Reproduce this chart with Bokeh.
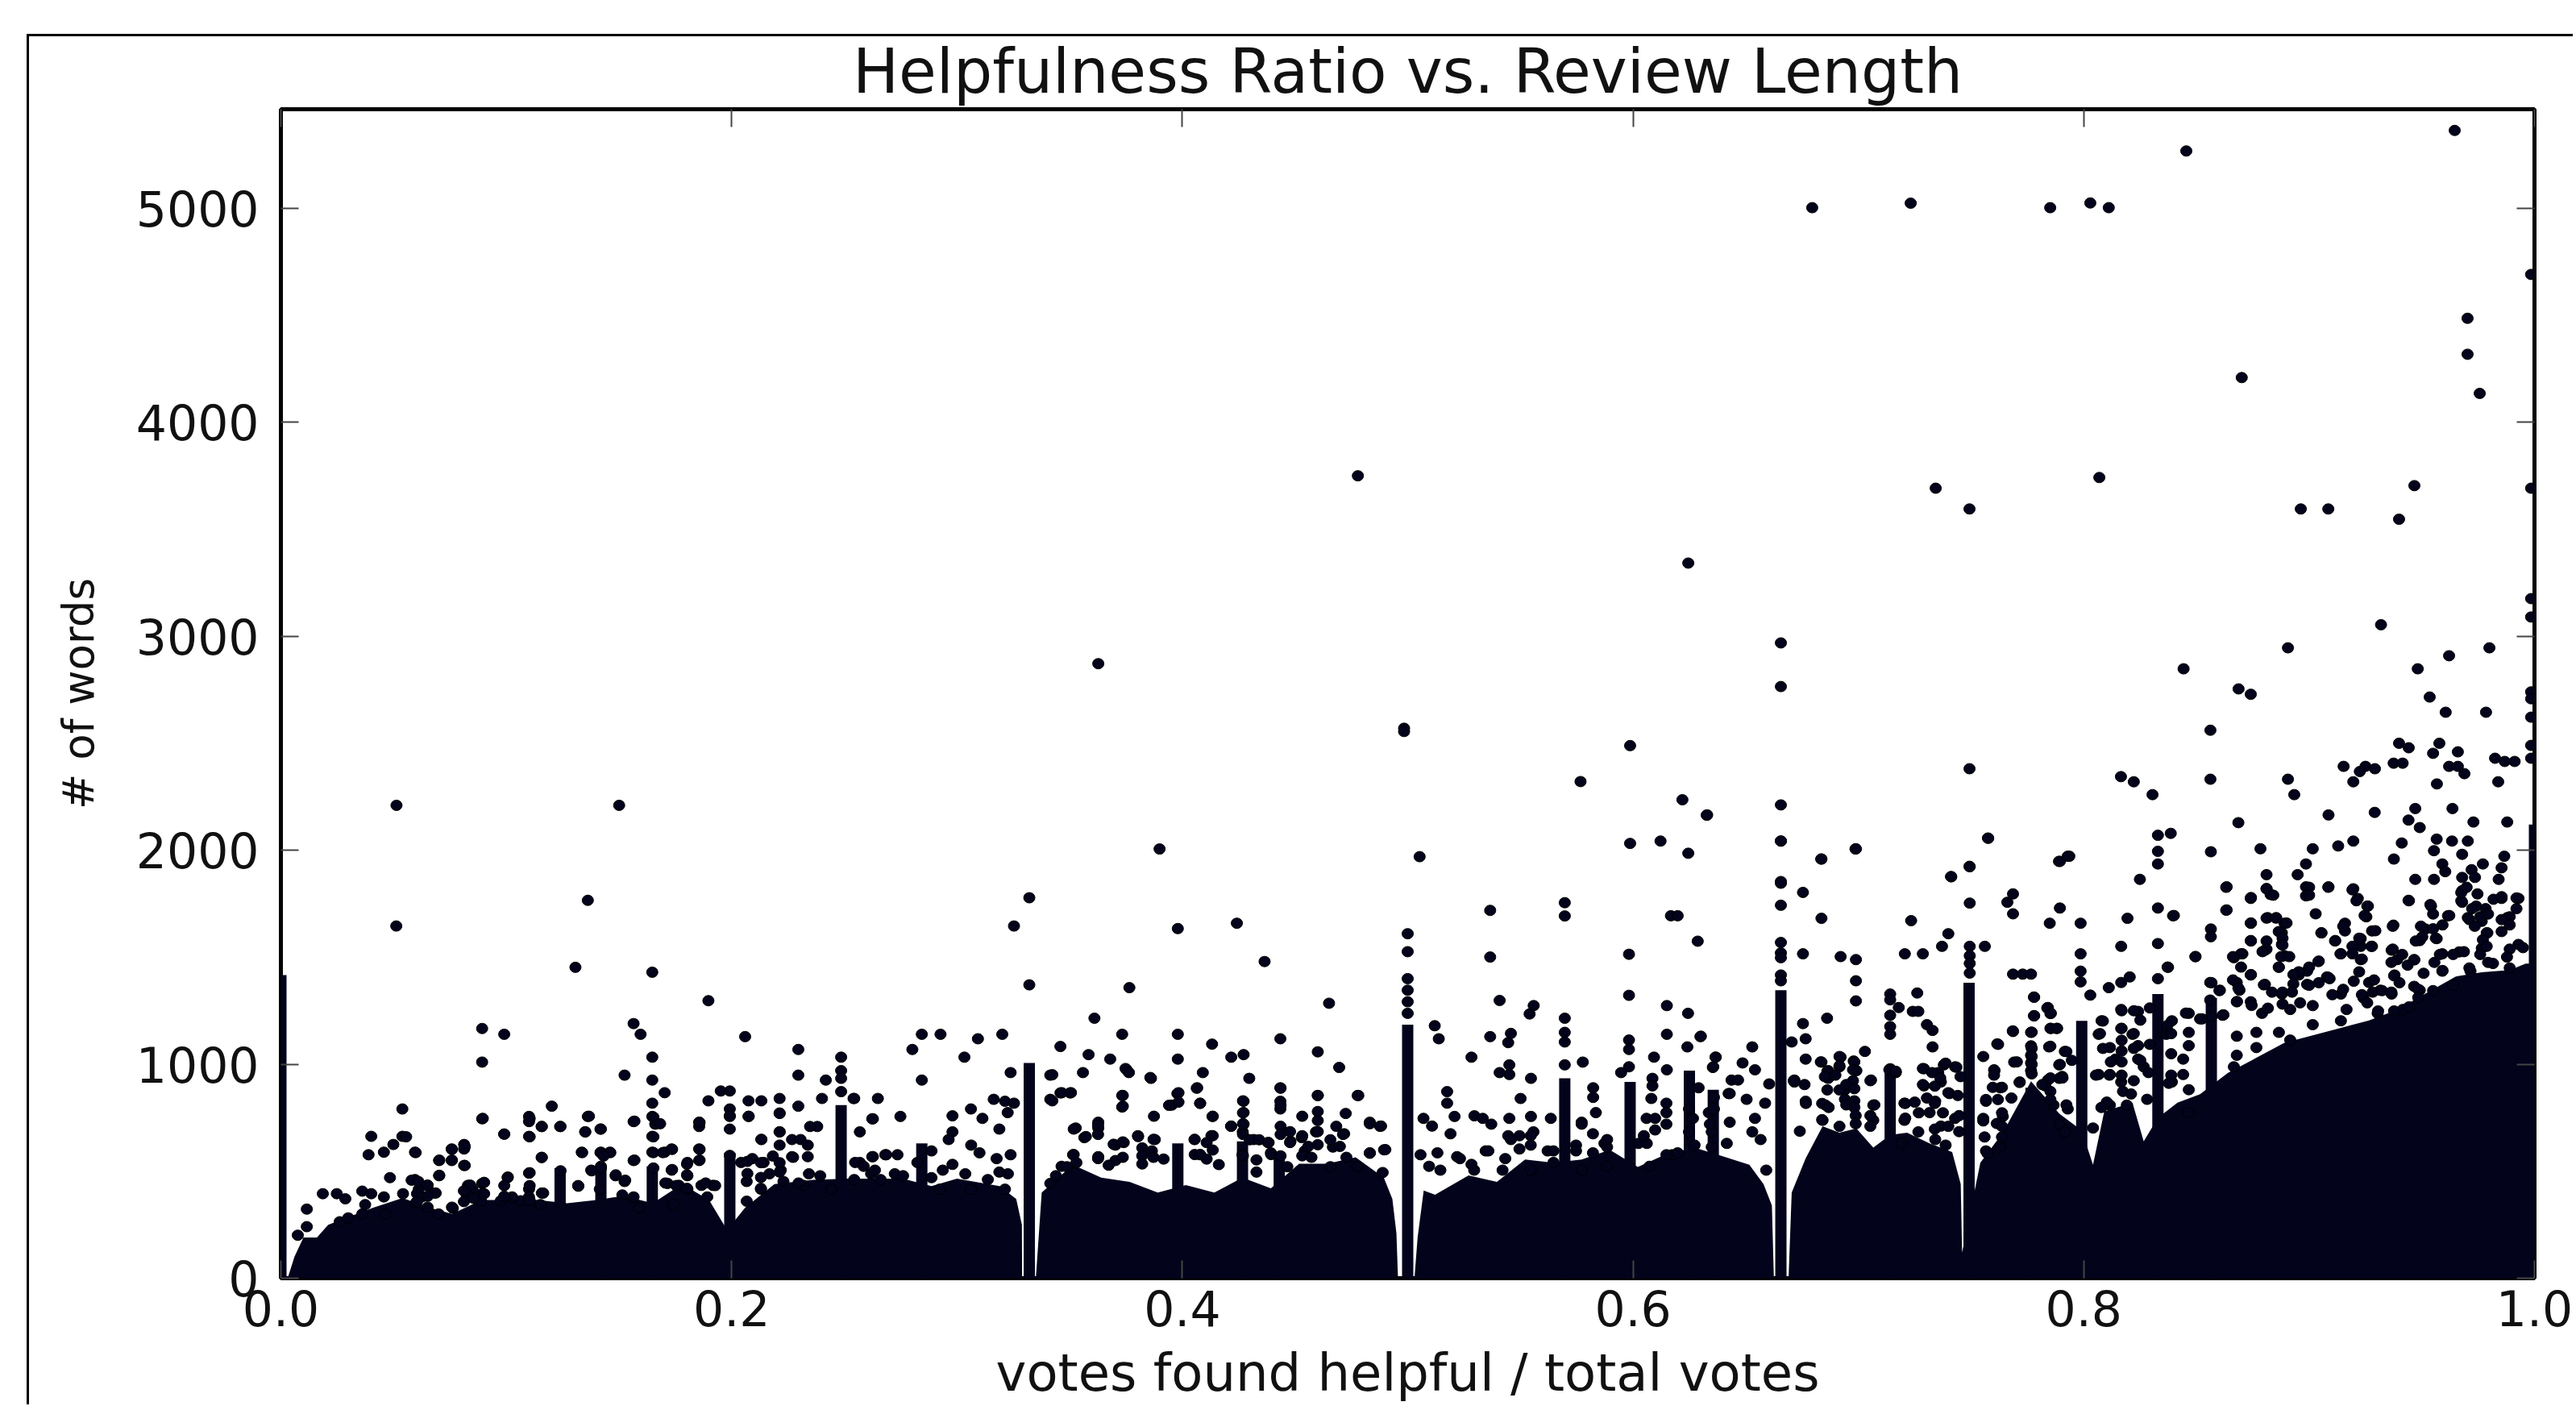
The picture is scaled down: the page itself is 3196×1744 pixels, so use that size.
from bokeh.plotting import figure
from bokeh.models import LinearAxis, Range1d, FixedTicker, Title
from bokeh.embed import file_html
from bokeh.resources import INLINE

TITLE = "Helpfulness Ratio vs. Review Length"
X_LABEL = "votes found helpful / total votes"
Y_LABEL = "# of words"
x_ticks = [0.0, 0.2, 0.4, 0.6, 0.8, 1.0]
x_tick_labels = ["0.0", "0.2", "0.4", "0.6", "0.8", "1.0"]
y_ticks = [0, 1000, 2000, 3000, 4000, 5000]

# Upper envelope of the solid mass of overlapping points (x, words)
mass_left = [(0.003,0),(0.006,100),(0.01,190),(0.016,190),(0.021,250),(0.031,290),(0.041,330),(0.054,375),(0.066,330),(0.076,300),(0.089,365),(0.102,365),(0.114,365),(0.127,350),(0.14,365),(0.152,385),(0.165,350),(0.178,440),(0.19,365),(0.198,225),(0.206,330),(0.219,440),(0.236,460),(0.251,465),(0.2636,465),(0.276,465),(0.2887,430),(0.3,465),(0.3189,430),(0.3263,370),(0.3288,250),(0.3289,0)]
mass_b = [(0.3350,0),(0.3376,400),(0.3514,530),(0.364,470),(0.3766,450),(0.3891,400),(0.4016,435),(0.4142,400),(0.4267,470),(0.4393,420),(0.4518,535),(0.4643,535),(0.4769,565),(0.4894,470),(0.4932,370),(0.495,210),(0.4957,0)]
mass_c = [(0.5030,0),(0.5044,190),(0.5071,410),(0.5121,390),(0.527,480),(0.5396,450),(0.5521,555),(0.5646,540),(0.5772,555),(0.5897,600),(0.6021,520),(0.6148,580),(0.6273,610),(0.6398,570),(0.6516,530),(0.6579,440),(0.6616,340),(0.6625,0)]
mass_d = [(0.6690,0),(0.6704,400),(0.6766,560),(0.6841,710),(0.6916,680),(0.6991,700),(0.7066,610),(0.7141,670),(0.7216,680),(0.7316,630),(0.7416,590),(0.7454,440),(0.7460,120),(0.7541,540),(0.7641,680),(0.7766,920),(0.7891,770),(0.7991,690),(0.8041,530),(0.8091,780),(0.8216,820),(0.8266,640),(0.8329,750),(0.8416,820),(0.8516,860),(0.8566,900),(0.864,960),(0.8766,1030),(0.889,1100),(0.9016,1135),(0.9141,1170),(0.9266,1205),(0.9391,1255),(0.9516,1330),(0.9651,1410),(0.9766,1430),(0.9891,1440),(0.9961,1470),(1.0,1470)]

# Columns of stacked points at common vote fractions (x, top of the solid column)
spike_x = [0.0, 0.1239, 0.142, 0.1648, 0.1992, 0.2486, 0.2844, 0.3321, 0.398, 0.4267, 0.443, 0.5, 0.5697, 0.5987, 0.625, 0.6356, 0.6656, 0.7141, 0.7491, 0.7766, 0.7991, 0.8329, 0.8566, 1.0]
spike_top = [1417, 514, 523, 523, 586, 809, 630, 1006, 630, 640, 585, 1185, 934, 917, 970, 881, 1346, 988, 1381, 890, 1203, 1328, 1310, 2120]

top_points = [(0.9646,5364),(0.8455,5268),(0.7851,5003),(0.8029,5025),(0.8111,5003),(0.6795,5003),(0.7232,5024),(0.9985,4691),(0.9703,4486),(0.9703,4318),(0.9757,4135),(0.8701,4209),(0.8069,3742),(0.9467,3704),(0.9985,3692),(0.8963,3595),(0.9085,3595),(0.9399,3547),(0.7343,3692),(0.7493,3595),(0.4779,3750),(0.6245,3342),(0.9985,3176),(0.9985,3090),(0.9319,3054),(0.8906,2946),(0.98,2946),(0.9621,2909),(0.6656,2969),(0.6656,2765),(0.3627,2872),(0.8443,2848),(0.9482,2848),(0.8687,2754),(0.8741,2729),(0.9535,2716),(0.9985,2740),(0.9985,2708),(0.9985,2622),(0.9606,2645),(0.9785,2645),(0.8562,2561),(0.4984,2570),(0.4984,2555)]
high_points = [(0.9399,2500),(0.9442,2479),(0.9578,2500),(0.966,2460),(0.955,2453),(0.9153,2392),(0.925,2392),(0.9225,2368),(0.9292,2381),(0.9375,2407),(0.9415,2407),(0.9621,2392),(0.966,2392),(0.9689,2358),(0.9825,2430),(0.9868,2415),(0.9912,2415),(0.9985,2490),(0.9985,2430),(0.8165,2344),(0.8222,2320),(0.8305,2260),(0.8562,2332),(0.8906,2332),(0.8934,2260),(0.9196,2320),(0.9567,2310),(0.9839,2320),(0.5987,2489),(0.5767,2321),(0.7493,2381),(0.6219,2236),(0.6327,2164),(0.6656,2212),(0.5987,2032),(0.6122,2043),(0.6245,1986),(0.6656,2043),(0.6835,1959),(0.6987,2006),(0.7575,2057),(0.7493,1925),(0.7412,1876),(0.789,1948),(0.7936,1972),(0.6656,1854),(0.0513,2210),(0.1501,2210),(0.3899,2006),(0.5053,1970)]

left_points = [(0.0512,1646),(0.1362,1766),(0.1307,1453),(0.1648,1430),(0.1897,1297),(0.1565,1190),(0.1596,1140),(0.206,1129),(0.0893,1167),(0.0991,1140),(0.0893,1010),(0.1648,1033),(0.1525,949),(0.1648,926),(0.1703,867),(0.2296,1069),(0.2296,949),(0.2296,804),(0.2486,1033),(0.2486,970),(0.2486,934),(0.2486,872),(0.2418,926),(0.2401,840),(0.2544,840),(0.2649,840),(0.1897,829),(0.1952,875),(0.1992,875),(0.2075,829),(0.2132,829),(0.2213,840),(0.2213,770),(0.1992,791),(0.1992,756),(0.2075,756),(0.1648,818),(0.1648,756),(0.1661,720),(0.1648,663),(0.1565,732),(0.1362,756),(0.142,697),(0.135,684),(0.1202,804),(0.1239,709),(0.1157,709),(0.1101,756),(0.1101,732),(0.1101,663),(0.0991,673),(0.0893,745),(0.0539,791),(0.0539,663),(0.0401,663),(0.0499,625),(0.0457,589),(0.0389,577),(0.0595,589),(0.0813,625),(0.0813,604),(0.0758,604),(0.0702,550),(0.0758,550),(0.0813,527),(0.0702,479),(0.0484,470),(0.1157,564),(0.1335,589),(0.142,589),(0.146,589),(0.1565,550),(0.1648,589),(0.1703,589),(0.1734,604),(0.1856,729),(0.1856,709),(0.1856,604),(0.1856,550),(0.1804,541),(0.1804,479),(0.1734,505),(0.238,709),(0.2348,709),(0.2569,684),(0.2627,745),(0.2132,648),(0.2213,684),(0.2213,622),(0.2268,648),(0.2306,648),(0.2338,622),(0.2268,568),(0.2338,568),(0.2569,541),(0.2627,568),(0.2682,577),(0.1377,505),(0.142,523),(0.1485,479),(0.1525,452),(0.132,430),(0.1101,491),(0.1006,470),(0.0115,323),(0.0115,241),(0.0075,201),(0.0186,395),(0.0248,395),(0.0286,371),(0.0361,407),(0.0401,395),(0.0457,380),(0.0542,395),(0.0595,461),(0.065,434),(0.0625,380),(0.083,434),(0.0893,443),(0.0893,395),(0.0838,380),(0.0261,264),(0.0299,282),(0.0361,300),(0.0374,344),(0.0462,300),(0.0612,416),(0.06,353),(0.0687,398),(0.07,300),(0.0763,327),(0.0825,380),(0.0888,362),(0.085,416),(0.0976,362),(0.1026,380),(0.1064,362),(0.1101,416),(0.1101,380),(0.1164,398),(0.1152,344),(0.1415,416),(0.1515,389),(0.1565,380),(0.1591,327),(0.1716,443),(0.1766,434),(0.1804,416),(0.1741,344),(0.1866,434),(0.1917,434),(0.1892,380),(0.2042,541),(0.2092,559),(0.2142,541),(0.2067,452),(0.213,416),(0.2218,505),(0.2168,488),(0.223,452),(0.2343,488),(0.2393,479),(0.2318,434),(0.2443,416),(0.2544,461),(0.2619,488)]

left_fringe = [(0.0896,747),(0.1104,747),(0.1158,709),(0.1241,709),(0.0991,674),(0.1104,661),(0.1351,684),(0.1418,697),(0.1367,757),(0.1569,734),(0.1653,753),(0.1683,722),(0.1653,661),(0.1858,728),(0.1992,759),(0.1992,697),(0.2076,757),(0.2213,772),(0.2213,684),(0.0556,661),(0.0598,587),(0.0759,602),(0.0816,615),(0.0703,552),(0.0759,552),(0.0816,527),(0.0703,481),(0.1158,565),(0.1337,587),(0.1418,587),(0.1462,587),(0.1432,571),(0.1569,552),(0.1653,587),(0.1695,587),(0.1736,602),(0.1858,602),(0.1858,552),(0.1992,574),(0.2132,649),(0.1104,493),(0.1241,502),(0.1379,502),(0.142,515),(0.1486,483),(0.1528,458),(0.1653,515),(0.1736,508),(0.1802,533),(0.1802,483),(0.1885,445),(0.1927,433),(0.1319,433),(0.1706,445),(0.1754,433),(0.1802,420),(0.213,420),(0.2067,360),(0.058,458),(0.061,452),(0.0651,435),(0.0681,398),(0.0604,395),(0.0651,383),(0.0604,358),(0.0651,332),(0.1007,473),(0.0991,433),(0.0902,448),(0.0902,395),(0.084,435),(0.0812,408),(0.0812,358),(0.0856,373),(0.0759,332),(0.0991,383),(0.1104,433),(0.1158,398),(0.1104,364),(0.2183,571),(0.207,546),(0.213,540),(0.2213,540),(0.2273,565),(0.207,489),(0.213,471),(0.2213,496),(0.2297,445)]

middle_points = [(0.3321,1778),(0.3253,1646),(0.398,1634),(0.4242,1659),(0.4365,1480),(0.3321,1371),(0.3765,1358),(0.4651,1285),(0.5,1610),(0.5,1526),(0.5,1400),(0.5,1346),(0.5,1292),(0.5,1238),(0.5366,1719),(0.5366,1501),(0.5697,1755),(0.5697,1693),(0.5982,1514),(0.5982,1322),(0.6168,1694),(0.6198,1694),(0.6287,1575),(0.615,1274),(0.6244,1238),(0.512,1180),(0.5138,1119),(0.5283,1033),(0.5408,1298),(0.5366,1129),(0.5458,1144),(0.5446,1101),(0.5559,1274),(0.5541,1235),(0.5697,1215),(0.5697,1149),(0.5697,1104),(0.5697,997),(0.5777,1010),(0.5982,1113),(0.5982,1069),(0.5982,988),(0.5947,961),(0.615,1140),(0.6093,1033),(0.615,974),(0.6241,1081),(0.6299,1129),(0.6367,1033),(0.6354,985),(0.2802,1069),(0.2844,1140),(0.2927,1140),(0.2844,926),(0.3033,1033),(0.3093,1119),(0.3201,1140),(0.3238,961),(0.3414,949),(0.3459,1083),(0.3559,961),(0.3584,1045),(0.368,1024),(0.361,1215),(0.3733,1140),(0.3753,974),(0.3861,934),(0.398,1140),(0.398,1024),(0.4132,1094),(0.4091,961),(0.4217,1033),(0.4272,1045),(0.4297,934),(0.4435,1119),(0.4601,1058),(0.4696,985),(0.4435,890),(0.4435,827),(0.4435,791),(0.4601,854),(0.4781,854),(0.4066,890),(0.3978,863),(0.3953,809),(0.4079,818),(0.4134,756),(0.4272,827),(0.4272,774),(0.4272,720),(0.4217,711),(0.3733,854),(0.3733,800),(0.3414,836),(0.3459,866),(0.3502,866),(0.3163,836),(0.3213,827),(0.3253,818),(0.3225,774),(0.3062,791),(0.298,759),(0.3113,747),(0.3188,697),(0.298,684),(0.2963,648),(0.2541,840),(0.2749,756),(0.2624,745),(0.5175,872),(0.5175,818),(0.507,747),(0.5108,711),(0.5208,756),(0.5296,759),(0.5333,747),(0.5371,720),(0.519,675),(0.5451,997),(0.5451,952),(0.5408,961),(0.5547,934),(0.5501,840),(0.5547,756),(0.5451,747),(0.5635,747),(0.5772,729),(0.5823,890),(0.5823,845),(0.5835,774),(0.6086,934),(0.6086,899),(0.6081,840),(0.606,747),(0.6098,747),(0.6424,863),(0.6437,926),(0.6148,818),(0.6148,774)]

band_points = [(0.3527,702),(0.3565,657),(0.3627,729),(0.3627,702),(0.3703,622),(0.374,634),(0.3803,666),(0.3878,648),(0.4054,648),(0.4129,666),(0.4268,684),(0.4317,648),(0.438,634),(0.448,640),(0.453,657),(0.4593,684),(0.4718,675),(0.4832,729),(0.4882,711),(0.4895,600),(0.4832,586),(0.3515,577),(0.3627,568),(0.3703,550),(0.3865,595),(0.4079,577),(0.4267,577),(0.4393,586),(0.4543,595),(0.4668,613),(0.5057,577),(0.5132,586),(0.5095,523),(0.5219,568),(0.5283,532),(0.5346,595),(0.5446,666),(0.5496,666),(0.5558,684),(0.5621,595),(0.5747,622),(0.5873,630),(0.6024,630),(0.6173,577),(0.2548,541),(0.2624,568),(0.2686,577),(0.2736,577),(0.2636,505),(0.2724,488),(0.2824,541),(0.2887,595),(0.298,532),(0.3063,622),(0.31,586),(0.3238,577),(0.3176,559),(0.3226,488),(0.3414,443),(0.3464,523),(0.3439,479)]

band_fringe = [(0.5145,505),(0.5232,559),(0.5295,505),(0.5358,595),(0.5433,559),(0.5496,604),(0.5546,622),(0.5421,505),(0.5546,505),(0.5647,595),(0.5647,541),(0.5747,595),(0.5822,586),(0.5885,613),(0.5772,505),(0.5885,523),(0.6073,523),(0.6148,577),(0.6198,586),(0.6273,622),(0.6248,684),(0.6349,684),(0.6349,613),(0.6248,791),(0.6336,774),(0.6061,630),(0.6048,666),(0.6098,693),(0.6148,720),(0.5822,675),(0.5772,720),(0.5885,648),(0.5546,666),(0.5458,648),(0.2586,523),(0.2661,461),(0.2761,479),(0.2887,470),(0.2937,505),(0.3037,488),(0.3137,461),(0.3188,496),(0.2924,416),(0.3062,416),(0.3213,416)]

mid_fringe = [(0.3748,980),(0.3763,961),(0.3423,951),(0.3858,938),(0.3465,867),(0.3506,867),(0.3423,829),(0.3736,854),(0.3736,804),(0.3983,867),(0.3983,823),(0.3941,808),(0.4064,888),(0.4079,817),(0.3874,757),(0.4135,757),(0.4269,829),(0.4269,773),(0.4436,888),(0.4436,808),(0.4601,854),(0.4778,854),(0.4532,757),(0.4601,779),(0.4601,737),(0.4725,770),(0.3518,697),(0.3626,716),(0.3626,672),(0.3572,662),(0.3804,662),(0.3872,649),(0.3695,626),(0.3736,637),(0.4055,649),(0.4135,666),(0.4108,634),(0.4135,599),(0.4216,710),(0.4269,722),(0.4269,672),(0.4299,647),(0.4341,647),(0.4383,634),(0.4436,710),(0.4436,672),(0.4478,685),(0.4478,634),(0.4532,666),(0.4601,685),(0.4683,710),(0.4713,672),(0.4657,647),(0.4832,722),(0.4877,710),(0.4601,624),(0.4559,616),(0.4699,616),(0.3518,578),(0.3626,559),(0.3736,565),(0.3822,609),(0.3822,572),(0.3872,565),(0.3917,557),(0.3822,534),(0.353,540),(0.3488,521),(0.3673,528),(0.4055,578),(0.4108,557),(0.4162,531),(0.4079,578),(0.4269,572),(0.4329,553),(0.4394,578),(0.4436,572),(0.4532,572),(0.4573,565),(0.4728,565),(0.4832,584),(0.4901,601),(0.4889,494),(0.4776,521),(0.4657,521),(0.4329,496),(0.4466,521)]

right_a = [(0.6656,2043),(0.6656,1846),(0.6656,1743),(0.6656,1569),(0.6656,1520),(0.6656,1498),(0.6656,1417),(0.6656,1390),(0.6329,2165),(0.6836,1959),(0.6989,2007),(0.6754,1803),(0.6836,1682),(0.6754,1516),(0.6921,1503),(0.6989,1489),(0.6989,1390),(0.6989,1296),(0.7576,2056),(0.7494,1923),(0.7411,1877),(0.7494,1753),(0.7234,1671),(0.7399,1610),(0.7371,1551),(0.7206,1516),(0.7286,1516),(0.7494,1551),(0.7494,1507),(0.7494,1471),(0.7494,1426),(0.7561,1551),(0.7141,1328),(0.7141,1301),(0.7141,1229),(0.7141,1176),(0.7141,1140),(0.7261,1333),(0.7179,1265),(0.7241,1247),(0.7266,1247),(0.7304,1185),(0.7329,1158),(0.7329,1081),(0.6861,1215),(0.6754,1190),(0.6766,1119),(0.6704,1104),(0.6529,1081),(0.6366,1033),(0.6356,988),(0.6486,1006),(0.6541,974),(0.6466,926),(0.6301,1131),(0.7029,1060),(0.6921,1033),(0.6836,1010),(0.6766,1024),(0.6979,1015),(0.6866,970),(0.6916,988),(0.6991,970),(0.6866,934),(0.6716,926),(0.7056,926),(0.7141,979),(0.7166,961),(0.7291,979),(0.7354,961),(0.7379,997),(0.7429,988)]

right_b = [(0.7686,1796),(0.7661,1757),(0.7686,1703),(0.7894,1948),(0.7929,1972),(0.7894,1730),(0.7849,1659),(0.7986,1659),(0.7986,1516),(0.7986,1435),(0.7986,1385),(0.7686,1421),(0.7729,1421),(0.7766,1421),(0.7779,1314),(0.7841,1265),(0.7854,1238),(0.7779,1226),(0.7686,1153),(0.7766,1149),(0.7854,1167),(0.7879,1167),(0.7616,1095),(0.7846,1081),(0.7916,1060),(0.7766,1086),(0.7766,1042),(0.7766,1006),(0.7766,970),(0.7691,1010),(0.7891,997),(0.7604,970),(0.7904,943),(0.7841,926),(0.8029,1323),(0.8111,1358),(0.8166,1382),(0.8204,1408),(0.8166,1551),(0.8194,1682),(0.8249,1864),(0.8329,2070),(0.8329,1995),(0.8329,1936),(0.8386,2079),(0.8329,1730),(0.8396,1694),(0.8329,1564),(0.8374,1453),(0.8329,1400),(0.8496,1503),(0.8564,1993),(0.8564,1632),(0.8564,1596),(0.8634,1829),(0.8634,1721),(0.8686,2129),(0.8666,1498),(0.8704,1516),(0.8561,1382),(0.8604,1346),(0.8679,1382),(0.8691,1346),(0.8679,1292),(0.8741,1417),(0.8741,1775),(0.8741,1659),(0.8741,1578),(0.8784,2007)]

right_c = [(0.8811,1886),(0.8811,1820),(0.8829,1793),(0.8816,1685),(0.8854,1685),(0.8891,1659),(0.8879,1614),(0.8879,1560),(0.8804,1533),(0.8891,1507),(0.8866,1453),(0.8804,1373),(0.8879,1328),(0.8954,1417),(0.8949,1886),(0.8986,1936),(0.9016,2007),(0.9086,2165),(0.9129,2020),(0.9196,2043),(0.8986,1829),(0.8986,1787),(0.9086,1829),(0.9029,1703),(0.9054,1614),(0.9116,1578),(0.9041,1480),(0.8991,1435),(0.9079,1408),(0.8991,1373),(0.9196,1820),(0.9216,1775),(0.9261,1739),(0.9254,1689),(0.9159,1659),(0.9159,1623),(0.9141,1516),(0.9229,1587),(0.9229,1551),(0.9229,1489),(0.9279,1623),(0.9374,1650),(0.9279,1551),(0.9291,2177),(0.9411,2034),(0.9376,1959),(0.9441,2141),(0.9491,2106),(0.9471,2195),(0.9636,2195),(0.9471,1864),(0.9441,1766),(0.9541,1739),(0.9616,1694),(0.9566,2052),(0.9634,2043),(0.9704,2043),(0.9729,2132),(0.9879,2132),(0.9554,1998),(0.9591,1936),(0.9604,1900),(0.9554,1864),(0.9679,1981),(0.9771,1936),(0.9721,1909),(0.9866,1972),(0.9854,1918),(0.9679,1873),(0.9736,1873),(0.9841,1864),(0.9679,1811),(0.9679,1757),(0.9741,1739),(0.9704,1685),(0.9766,1668),(0.9791,1614),(0.9879,1685),(0.9929,1775),(0.9854,1775),(0.9516,1632),(0.9491,1578),(0.9566,1587),(0.9366,1533),(0.9391,1489),(0.9466,1489),(0.9591,1516),(0.9666,1525),(0.9766,1542),(0.9929,1560),(0.9379,1417),(0.9266,1382),(0.9141,1328),(0.9466,1364),(0.9591,1435),(0.9716,1435),(0.9816,1471),(0.9316,1346),(0.9091,1400),(0.9241,1310),(0.9366,1328)]

right_d = [(0.9016,1274),(0.8916,1256),(0.8791,1238),(0.8741,1292),(0.9166,1256),(0.9304,1238),(0.9416,1256),(0.9491,1346),(0.8466,1238),(0.8516,1212),(0.8616,1229),(0.8391,1203),(0.8466,1149),(0.8366,1140),(0.8241,1247),(0.8166,1256),(0.8079,1203),(0.8166,1167),(0.8066,1140),(0.8216,1140),(0.8116,1078),(0.8241,1087),(0.8466,1087),(0.8679,1131),(0.8766,1149),(0.8866,1149),(0.9016,1185),(0.9141,1203),(0.8141,1024),(0.8241,1024),(0.8441,1024),(0.8679,1042),(0.8666,988),(0.8766,1078),(0.8916,1113),(0.8116,952),(0.8066,952),(0.8166,917),(0.8441,952),(0.8466,881),(0.7366,917),(0.7404,863),(0.7291,899),(0.7341,827),(0.7316,774),(0.7204,818),(0.7066,809),(0.7066,738),(0.6979,809),(0.6941,881),(0.6854,809),(0.6841,738),(0.6766,827),(0.6716,917),(0.6604,908),(0.6586,818),(0.6541,747),(0.6504,836),(0.6429,863),(0.6359,845),(0.6359,791),(0.6429,729),(0.6529,684),(0.6566,648),(0.6416,630),(0.6291,890),(0.6266,747),(0.6341,720),(0.6591,505),(0.7204,738),(0.7266,684),(0.7366,711),(0.7429,747),(0.7341,648),(0.7191,630),(0.7554,747),(0.7641,756),(0.7566,827),(0.7629,890),(0.7716,917),(0.7829,899),(0.7891,934),(0.7566,595),(0.7629,613),(0.7866,809),(0.7929,791),(0.7891,720),(0.7916,684),(0.8041,702),(0.8116,809),(0.8191,809),(0.8266,988),(0.8391,917),(0.8466,774)]

right_fringe = [(0.9687,1526),(0.9759,1513),(0.958,1513),(0.9639,1513),(0.9711,1450),(0.9794,1476),(0.989,1538),(0.9949,1545),(0.9878,1501),(0.989,1450),(0.9556,1476),(0.9508,1425),(0.9592,1438),(0.9365,1476),(0.9377,1413),(0.9401,1381),(0.9467,1488),(0.9437,1463),(0.9413,1513),(0.9371,1538),(0.9723,1727),(0.9783,1727),(0.9711,1676),(0.9759,1689),(0.9794,1702),(0.9735,1645),(0.989,1689),(0.9854,1676),(0.989,1651),(0.9854,1620),(0.9788,1614),(0.9771,1582),(0.9788,1551),(0.9675,1764),(0.9675,1802),(0.9699,1827),(0.9747,1796),(0.9818,1771),(0.9854,1783),(0.992,1777),(0.992,1727),(0.9622,1695),(0.9592,1651),(0.955,1633),(0.9496,1645),(0.9502,1595),(0.9562,1589),(0.9473,1576),(0.9538,1746),(0.955,1702),(0.9443,1764),(0.9371,1645),(0.9294,1624),(0.9258,1739),(0.9246,1695),(0.921,1764),(0.9192,1815),(0.9085,1827),(0.9,1827),(0.9,1790),(0.8811,1821),(0.8841,1790),(0.8742,1779),(0.8632,1827),(0.8632,1720),(0.84,1695),(0.8742,1660),(0.8811,1683),(0.8853,1683),(0.89,1660),(0.8865,1620),(0.8882,1589),(0.8882,1557),(0.8876,1503),(0.8912,1503),(0.8811,1576),(0.8742,1576),(0.8811,1538),(0.8793,1526),(0.8698,1516),(0.8662,1503),(0.8495,1503),(0.8372,1454),(0.8698,1454),(0.8742,1419),(0.8865,1454),(0.9043,1482),(0.9,1454),(0.8954,1432),(0.893,1419),(0.9085,1406),(0.9043,1381),(0.9,1369),(0.893,1375),(0.8799,1371),(0.8662,1394),(0.8686,1356),(0.8567,1381),(0.8602,1344),(0.8835,1337),(0.8882,1337),(0.8924,1337),(0.8882,1281),(0.8561,1300),(0.868,1293),(0.8745,1275),(0.8817,1262),(0.896,1287),(0.8453,1239),(0.8525,1212),(0.8567,1224),(0.862,1231),(0.9103,1325),(0.9151,1350),(0.9198,1388),(0.9222,1432),(0.9288,1394),(0.9282,1337),(0.9324,1344),(0.9365,1337),(0.9234,1325),(0.9258,1287),(0.9306,1249),(0.9377,1249),(0.9443,1268),(0.9484,1350),(0.955,1344),(0.9639,1369),(0.9484,1312),(0.9055,1614),(0.9115,1576),(0.9151,1645),(0.9222,1589),(0.9192,1551),(0.9276,1551),(0.9139,1516),(0.9192,1516),(0.9234,1491)]

centre_fringe = [(0.6916,1036),(0.6833,1011),(0.6982,1011),(0.6862,967),(0.6916,993),(0.6976,974),(0.6851,942),(0.6898,949),(0.6713,923),(0.6761,905),(0.7053,923),(0.6976,923),(0.6946,905),(0.6982,886),(0.6862,880),(0.6916,880),(0.694,836),(0.6982,829),(0.6767,817),(0.6839,817),(0.6868,798),(0.7071,810),(0.6946,810),(0.6982,798),(0.6988,760),(0.6988,722),(0.7053,760),(0.7053,710),(0.6839,741),(0.674,687),(0.6916,710),(0.7137,974),(0.7166,967),(0.7286,980),(0.7327,961),(0.7363,936),(0.7286,905),(0.7339,898),(0.7387,1005),(0.7435,986),(0.7453,942),(0.7399,867),(0.7441,854),(0.7304,842),(0.7339,817),(0.7375,773),(0.7208,817),(0.725,823),(0.7268,773),(0.7208,748),(0.7447,760),(0.7447,685),(0.7339,697),(0.7399,710),(0.7387,622),(0.7554,1036),(0.7602,974),(0.7602,949),(0.7596,892),(0.7637,892),(0.7566,835),(0.7619,835),(0.7679,842),(0.7637,773),(0.7554,735),(0.7614,723),(0.7637,710),(0.756,660),(0.7637,660),(0.7572,584),(0.7715,915),(0.7852,936),(0.7894,999),(0.7923,1059),(0.7947,1018),(0.7906,936),(0.7852,873),(0.7852,835),(0.7923,810),(0.7816,905),(0.7685,1156),(0.7769,1150),(0.7852,1168),(0.7882,1168),(0.7769,1074),(0.7769,1036),(0.7769,999),(0.7769,955),(0.7852,1084),(0.762,1093),(0.7703,1011),(0.778,1313),(0.778,1227),(0.7838,1263),(0.7852,1237),(0.8085,1202),(0.8072,1143),(0.8168,1250),(0.8168,1168),(0.8222,1250),(0.8251,1206),(0.8222,1143),(0.8168,1112),(0.8085,1074),(0.8168,1062),(0.8222,1074),(0.812,1011),(0.8168,1011),(0.8251,1018),(0.8054,949),(0.8114,949),(0.8168,949),(0.8222,923),(0.8293,1093),(0.8293,1263),(0.8371,1181),(0.8388,1143),(0.8388,1049),(0.8287,961),(0.8388,949),(0.8377,911),(0.8281,836),(0.8174,873),(0.821,861),(0.8102,823),(0.8078,798)]

FRAME_W, FRAME_H = 2796, 1450
INK = "#03031c"

p = figure(width=3192, height=1742, frame_width=FRAME_W, frame_height=FRAME_H,
           x_range=Range1d(0, 1), y_range=Range1d(0, 5463),
           output_backend="svg", toolbar_location=None,
           min_border_left=348, min_border_right=48, min_border_top=135, min_border_bottom=157,
           x_axis_label=X_LABEL, y_axis_label=Y_LABEL)
p.grid.visible = False
p.background_fill_color = "white"
p.outline_line_color = "black"
p.outline_line_width = 5
p.stylesheets = [":host::before{content:'';position:absolute;left:33px;top:42px;right:0;bottom:0;"
                 "border-left:3px solid black;border-top:3px solid black;z-index:5;pointer-events:none}"]

p.title = Title(text=TITLE, text_font="DejaVu Sans", text_font_size="76px", text_font_style="normal",
                align="center", standoff=5, text_color="#111111")

for ax, tk in ((p.xaxis[0], x_ticks), (p.yaxis[0], y_ticks)):
    ax.ticker = FixedTicker(ticks=tk)
    ax.axis_line_color = None
    ax.major_tick_in = 22
    ax.major_tick_out = 0
    ax.minor_tick_line_color = None
    ax.major_tick_line_color = "#444444"
    ax.major_tick_line_width = 2
    ax.major_label_text_font = "DejaVu Sans"
    ax.major_label_text_font_size = "60px"
    ax.major_label_text_color = "#111111"
    ax.axis_label_text_font = "DejaVu Sans"
    ax.axis_label_text_font_style = "normal"
    ax.axis_label_text_color = "#111111"

p.xaxis[0].major_label_overrides = dict(zip(x_ticks, x_tick_labels))
p.xaxis[0].major_label_standoff = 14
p.xaxis[0].axis_label_text_font_size = "64px"
p.xaxis[0].axis_label_standoff = 18
p.yaxis[0].major_label_standoff = 27
p.yaxis[0].axis_label_text_font_size = "53px"
p.yaxis[0].axis_label_standoff = 38

for side, tk in (("above", x_ticks), ("right", y_ticks)):
    ax = LinearAxis(ticker=FixedTicker(ticks=tk), axis_line_color=None, major_tick_in=22, major_tick_out=0,
                    minor_tick_line_color=None, major_tick_line_color="#444444", major_tick_line_width=2,
                    major_label_text_color=None, major_label_text_font_size="1px", major_label_standoff=0)
    p.add_layout(ax, side)

for mass in (mass_left, mass_b, mass_c, mass_d):
    xs = [m[0] for m in mass]
    ys = [m[1] for m in mass]
    p.varea(x=xs, y1=[0] * len(xs), y2=ys, fill_color=INK)

p.vbar(x=spike_x, top=spike_top, width=0.005, bottom=0, fill_color=INK, line_color=None)

all_points = (top_points + high_points + left_points + left_fringe + middle_points + band_points + band_fringe
              + mid_fringe + right_a + right_b + right_c + right_d + right_fringe + centre_fringe)
p.ellipse(x=[a for a, _ in all_points], y=[b for _, b in all_points],
          width=14, height=13, width_units="screen", height_units="screen",
          fill_color=INK, line_color="black", line_width=1)

open("out.html", "w").write(file_html(p, INLINE))
